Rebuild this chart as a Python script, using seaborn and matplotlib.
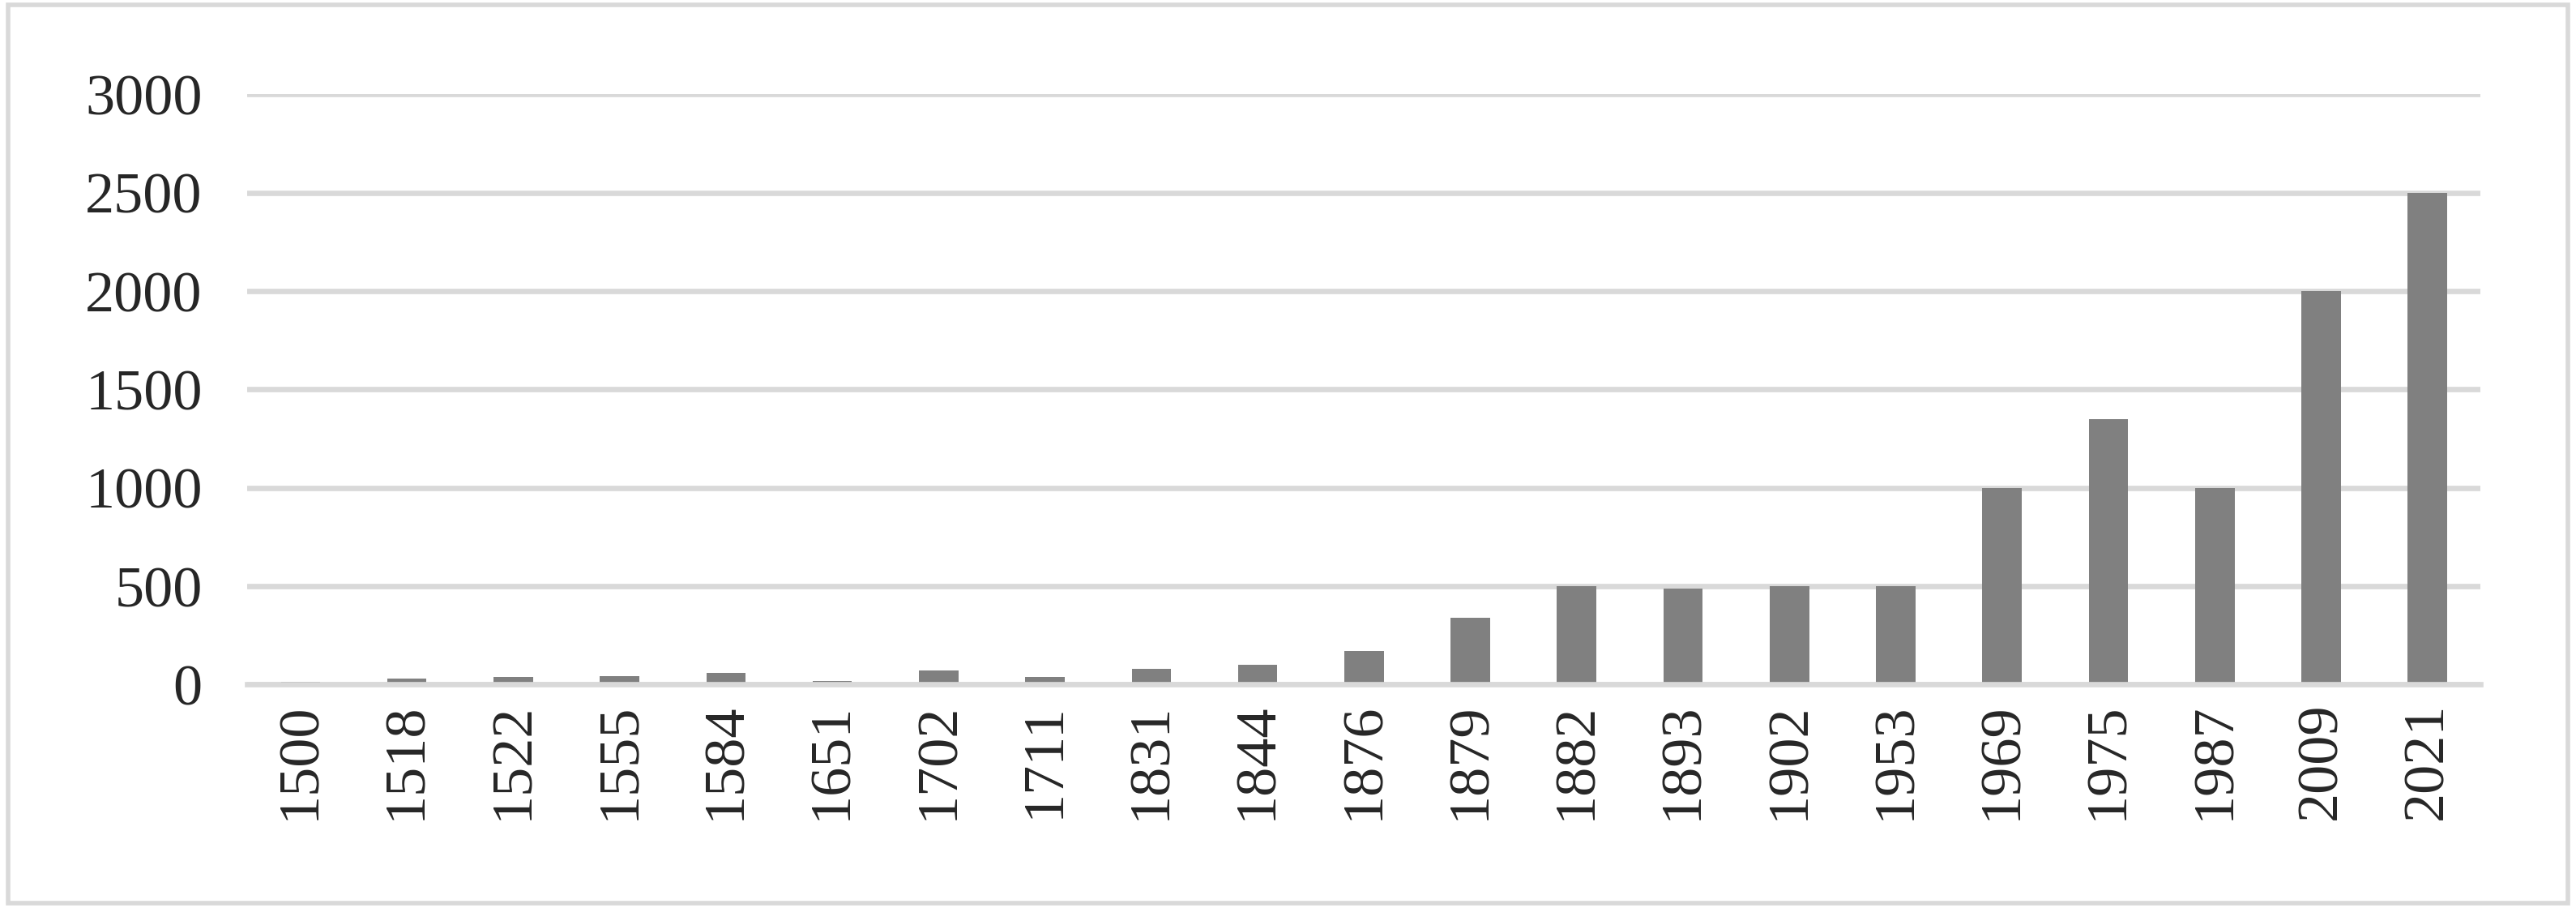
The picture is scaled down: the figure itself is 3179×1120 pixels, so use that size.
import matplotlib
matplotlib.use("Agg")
import matplotlib.pyplot as plt
import seaborn as sns
import pandas as pd

# # DATA

years = ["1500", "1518", "1522", "1555", "1584", "1651", "1702", "1711", "1831", "1844", "1876",
         "1879", "1882", "1893", "1902", "1953", "1969", "1975", "1987", "2009", "2021"]
values = [15, 30, 40, 45, 60, 20, 70, 40, 80, 100, 170,
          340, 500, 490, 500, 500, 1000, 1350, 1000, 2000, 2500]
df = pd.DataFrame({"year": years, "value": values})

sns.set_theme(style="white")
plt.rcParams['font.family'] = ['Liberation Serif', 'DejaVu Serif']

fig = plt.figure(figsize=(15.895, 5.6), dpi=200)
ax = fig.add_axes([0.096, 0.246, 0.867, 0.65])

sns.barplot(data=df, x="year", y="value", color="#808080", width=0.37, saturation=1,
            linewidth=0, ax=ax)

ax.set_ylim(0, 3000)
ax.set_yticks(range(0, 3001, 500))
ax.yaxis.grid(True, color="#d9d9d9", lw=2.4)
ax.set_axisbelow(True)
for s in ["top", "right", "left"]:
    ax.spines[s].set_visible(False)
ax.spines["bottom"].set_color("#d9d9d9")
ax.spines["bottom"].set_linewidth(2.4)
ax.set_xlabel("")
ax.set_ylabel("")
ax.tick_params(axis="x", rotation=90, labelsize=26, length=0, pad=8)
ax.tick_params(axis="y", labelsize=26, length=0, pad=20)

# light border around the whole figure
fig.patches.append(plt.Rectangle((0.003, 0.005), 0.994, 0.99, transform=fig.transFigure,
                                 fill=False, edgecolor="#d9d9d9", lw=2))

plt.savefig("out.png", dpi=200)
plt.close()
